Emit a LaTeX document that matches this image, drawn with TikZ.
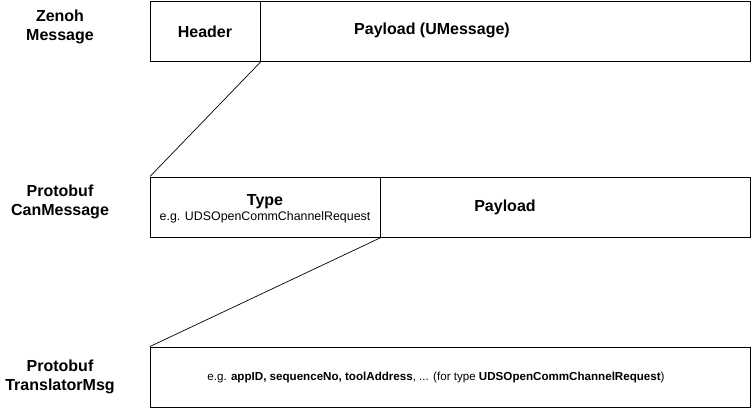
\documentclass[tikz,border=0pt]{standalone}
\usepackage{fontspec}
\setmainfont{Liberation Sans}
\begin{document}
\begin{tikzpicture}[x=1pt,y=-1pt,
  cell/.style={draw,line width=1pt,inner sep=0pt,anchor=north west},
  lbl/.style={font=\fontsize{16}{18}\selectfont\bfseries,align=center},
  side/.style={font=\fontsize{16}{18.5}\selectfont\bfseries,align=center},
  conn/.style={draw,line width=0.7pt}]
\useasboundingbox (0,0) rectangle (752,407);
% Zenoh
\node[cell,minimum width=110pt,minimum height=60pt] (hdr) at (150,0.5) {};
\node[cell,minimum width=490pt,minimum height=60pt] (pl1) at (260,0.5) {};
\node[lbl] (hdrt) at (205,32) {Header};
\node[lbl] (pl1t) at (432,30) {Payload (UMessage)};
\node[side] (zen) at (60,27) {Zenoh\\Message};
% CanMessage
\node[cell,minimum width=230pt,minimum height=60pt] (typ) at (150,176.5) {};
\node[cell,minimum width=370pt,minimum height=60pt] (pl2) at (380,176.5) {};
\node[lbl] (typt) at (265,202) {Type};
\node[font=\fontsize{12.4}{14}\selectfont] (eg) at (265,217) {e.g. UDSOpenCommChannelRequest};
\node[lbl] (pl2t) at (505,207) {Payload};
\node[side] (can) at (60,202) {Protobuf\\CanMessage};
% TranslatorMsg
\node[cell,minimum width=600pt,minimum height=60pt] (trm) at (150,346.5) {};
\node[font=\fontsize{11.6}{13}\selectfont] (trt) at (436,377) {e.g. \textbf{appID, sequenceNo, toolAddress}, ... (for type \textbf{UDSOpenCommChannelRequest})};
\node[side] (tr) at (60,377) {Protobuf\\TranslatorMsg};
% connectors
\draw[conn] (hdr.south east) -- (typ.north west);
\draw[conn] (typ.south east) -- (trm.north west);
\end{tikzpicture}
\end{document}
